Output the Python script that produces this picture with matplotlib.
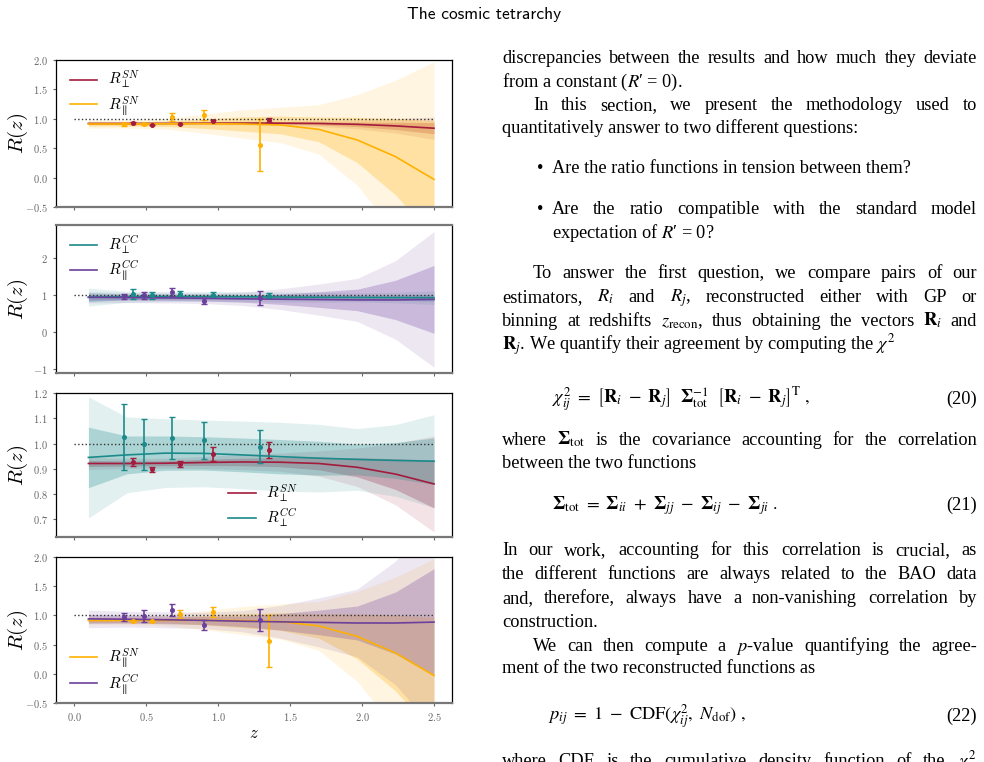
import numpy as np
import matplotlib
matplotlib.use("Agg")
import matplotlib.pyplot as plt

plt.rcParams["font.family"] = "cmr10"
plt.rcParams["mathtext.fontset"] = "cm"
plt.rcParams["axes.formatter.use_mathtext"] = True

W, H = 984, 762

# GP reconstruction nodes
z_gp = [0.1, 0.367, 0.633, 0.9, 1.167, 1.433, 1.7, 1.967, 2.233, 2.5]

sn_perp_mean = [0.921, 0.921, 0.922, 0.925, 0.927, 0.926, 0.921, 0.906, 0.879, 0.840]
sn_perp_sig = [0.012, 0.010, 0.010, 0.012, 0.015, 0.018, 0.025, 0.038, 0.061, 0.095]
sn_par_mean = [0.912, 0.913, 0.915, 0.917, 0.912, 0.895, 0.820, 0.640, 0.356, -0.030]
sn_par_sig = [0.035, 0.035, 0.045, 0.080, 0.120, 0.150, 0.210, 0.385, 0.650, 1.000]
cc_perp_mean = [0.945, 0.955, 0.962, 0.961, 0.955, 0.948, 0.942, 0.937, 0.933, 0.930]
cc_perp_sig = [0.120, 0.075, 0.068, 0.066, 0.067, 0.068, 0.067, 0.061, 0.071, 0.092]
cc_par_mean = [0.940, 0.935, 0.925, 0.915, 0.900, 0.890, 0.880, 0.870, 0.870, 0.885]
cc_par_sig = [0.075, 0.068, 0.068, 0.070, 0.090, 0.140, 0.210, 0.290, 0.530, 0.915]

# binned estimates
z_bins = [0.35, 0.483, 0.678, 0.905, 1.293]
sn_perp_pts = [0.927, 0.898, 0.918, 0.959, 0.974]
sn_perp_err = [0.015, 0.009, 0.012, 0.029, 0.033]
sn_par_pts = [0.905, 0.905, 1.030, 1.065, 0.560]
sn_par_err = [0.025, 0.015, 0.070, 0.085, 0.440]
cc_perp_pts = [1.025, 0.997, 1.023, 1.012, 0.987]
cc_perp_err = [0.130, 0.100, 0.083, 0.075, 0.066]
cc_par_pts = [0.973, 0.995, 1.087, 0.830, 0.920]
cc_par_err = [0.070, 0.100, 0.100, 0.083, 0.185]

RED, ORANGE, TEAL, PURPLE = "#a31b3d", "#ffb000", "#1b8a8a", "#6c3f9c"

series = {
    "sn_perp": (sn_perp_mean, sn_perp_sig, sn_perp_pts, sn_perp_err, RED, r"$R_\perp^{SN}$"),
    "sn_par": (sn_par_mean, sn_par_sig, sn_par_pts, sn_par_err, ORANGE, r"$R_\parallel^{SN}$"),
    "cc_perp": (cc_perp_mean, cc_perp_sig, cc_perp_pts, cc_perp_err, TEAL, r"$R_\perp^{CC}$"),
    "cc_par": (cc_par_mean, cc_par_sig, cc_par_pts, cc_par_err, PURPLE, r"$R_\parallel^{CC}$"),
}

fig = plt.figure(figsize=(W / 100, H / 100), dpi=100)
renderer = fig.canvas.get_renderer()

fig.text(484 / W, 1 - 19 / H, "The cosmic tetrarchy", ha="center", va="baseline",
         family="cmss10", fontsize=12.5)

# (left, top, right, bottom) in pixels
boxes = [(56, 60, 452, 207), (56, 225, 452, 373), (56, 393, 452, 537), (56, 557, 452, 703)]
pairs = [("sn_perp", "sn_par"), ("cc_perp", "cc_par"), ("sn_perp", "cc_perp"), ("sn_par", "cc_par")]
ylims = [(-0.5, 2.0), (-1.1, 2.89), (0.63, 1.2), (-0.5, 2.0)]
yticks = [[-0.5, 0, 0.5, 1, 1.5, 2], [-1, 0, 1, 2], [0.7, 0.8, 0.9, 1.0, 1.1, 1.2],
          [-0.5, 0, 0.5, 1, 1.5, 2]]
legend_pos = [("upper left", (0.0, 1.03)), ("upper left", (0.0, 1.03)),
              ("lower left", (0.40, -0.04)), ("lower left", (0.0, -0.05))]
SHIFT = 0.06

for i, (l, t, r, b) in enumerate(boxes):
    ax = fig.add_axes([l / W, 1 - b / H, (r - l) / W, (b - t) / H])
    for k, key in enumerate(pairs[i]):
        mean, sig, pts, err, col, lab = series[key]
        m = np.array(mean)
        s = np.array(sig)
        ax.fill_between(z_gp, m - 2 * s, m + 2 * s, color=col, alpha=0.12, lw=0)
        ax.fill_between(z_gp, m - s, m + s, color=col, alpha=0.27, lw=0)
        ax.plot(z_gp, m, color=col, lw=1.2, label=lab)
        zz = np.array(z_bins) + (SHIFT if k == 0 else 0.0)
        ax.errorbar(zz, pts, yerr=err, fmt="o", ms=2.6, color=col, elinewidth=1.2,
                    capsize=2, capthick=1.0)
    ax.plot([0, 2.5], [1, 1], ":", color="#333333", lw=1.0)
    ax.set_xlim(-0.125, 2.625)
    ax.set_ylim(*ylims[i])
    ax.set_yticks(yticks[i])
    ax.set_xticks([0, 0.5, 1.0, 1.5, 2.0, 2.5])
    ax.tick_params(axis="both", labelsize=7.5, labelcolor="#666666", color="#666666",
                   length=2.5, width=0.8)
    ax.set_ylabel(r"$R(z)$", fontsize=15)
    ax.yaxis.set_label_coords(-0.066, 0.5)
    for sp in ("left", "right", "top"):
        ax.spines[sp].set_linewidth(0.9)
    ax.spines["bottom"].set_color("#777777")
    ax.spines["bottom"].set_linewidth(1.6)
    if i == 1:
        ax.spines["top"].set_color("#777777")
        ax.spines["top"].set_linewidth(1.6)
    if i < 3:
        ax.set_xticklabels([])
    else:
        ax.set_xlabel(r"$z$", fontsize=12, labelpad=2)
    loc, anchor = legend_pos[i]
    ax.legend(loc=loc, bbox_to_anchor=anchor, frameon=False, fontsize=11,
              handlelength=1.8, handletextpad=0.7, labelspacing=0.15)

# ---- right column text ----
FS = 13.2
L, R, IND = 502, 977, 533


def split_words(s):
    out, cur, in_math = [], "", False
    for ch in s:
        if ch == "$":
            in_math = not in_math
        if ch == " " and not in_math:
            out.append(cur)
            cur = ""
        else:
            cur += ch
    out.append(cur)
    return [w for w in out if w]


def body(x, y, s, ha="left"):
    return fig.text(x / W, 1 - y / H, s, ha=ha, va="baseline", fontsize=FS,
                    family="Liberation Serif", math_fontfamily="stix")


def justified(x0, x1, y, s):
    words = split_words(s)
    ts = [body(x0, y, w) for w in words]
    widths = [tx.get_window_extent(renderer).width for tx in ts]
    gap = (x1 - x0 - sum(widths)) / (len(words) - 1)
    x = x0
    for tx, w in zip(ts, widths):
        tx.set_x(x / W)
        x += w + gap


PRIME = "\u2032"

justified(L, R, 63, "discrepancies between the results and how much they deviate")
body(L, 86.5, "from a constant ($R$" + PRIME + " = 0).")
justified(IND, R, 110, "In this section, we present the methodology used to")
body(L, 133, "quantitatively answer to two different questions:")

body(537, 173, "\u2022")
body(552, 173, "Are the ratio functions in tension between them?")
body(537, 214, "\u2022")
justified(552, R, 214, "Are the ratio compatible with the standard model")
body(552, 238, "expectation of $R$" + PRIME + " = 0?")

justified(IND, R, 278, "To answer the first question, we compare pairs of our")
justified(L, R, 302, r"estimators, $R_i$ and $R_j$, reconstructed either with GP or")
justified(L, R, 326, r"binning at redshifts $z_{\rm recon}$, thus obtaining the vectors $\mathbf{R}_i$ and")
body(L, 350, r"$\mathbf{R}_j$. We quantify their agreement by computing the $\chi^2$")

body(552, 404, r"$\chi^2_{ij}\ =\ \left[\mathbf{R}_i\ -\ \mathbf{R}_j\right]\ \ \mathbf{\Sigma}^{-1}_{\rm tot}"
               r"\ \ \left[\mathbf{R}_i\ -\ \mathbf{R}_j\right]^{\rm T}\ ,$")
body(R, 404, "(20)", ha="right")

justified(L, R, 445, r"where $\mathbf{\Sigma}_{\rm tot}$ is the covariance accounting for the correlation")
body(L, 468, "between the two functions")

body(552, 510, r"$\mathbf{\Sigma}_{\rm tot}\ =\ \mathbf{\Sigma}_{ii}\ +\ \mathbf{\Sigma}_{jj}"
               r"\ -\ \mathbf{\Sigma}_{ij}\ -\ \mathbf{\Sigma}_{ji}\ .$")
body(R, 510, "(21)", ha="right")

justified(L, R, 555, "In our work, accounting for this correlation is crucial, as")
justified(L, R, 579, "the different functions are always related to the BAO data")
justified(L, R, 603, "and, therefore, always have a non-vanishing correlation by")
body(L, 627, "construction.")
justified(IND, R, 651, r"We can then compute a $p$-value quantifying the agree-")
body(L, 673, "ment of the two reconstructed functions as")

body(548, 721, r"$p_{ij}\ =\ 1\ -\ {\rm CDF}(\chi^2_{ij},\ N_{\rm dof})\ ,$")
body(R, 721, "(22)", ha="right")

justified(L, R, 766, r"where CDF is the cumulative density function of the $\chi^2$")

fig.savefig("out.png", dpi=100)
